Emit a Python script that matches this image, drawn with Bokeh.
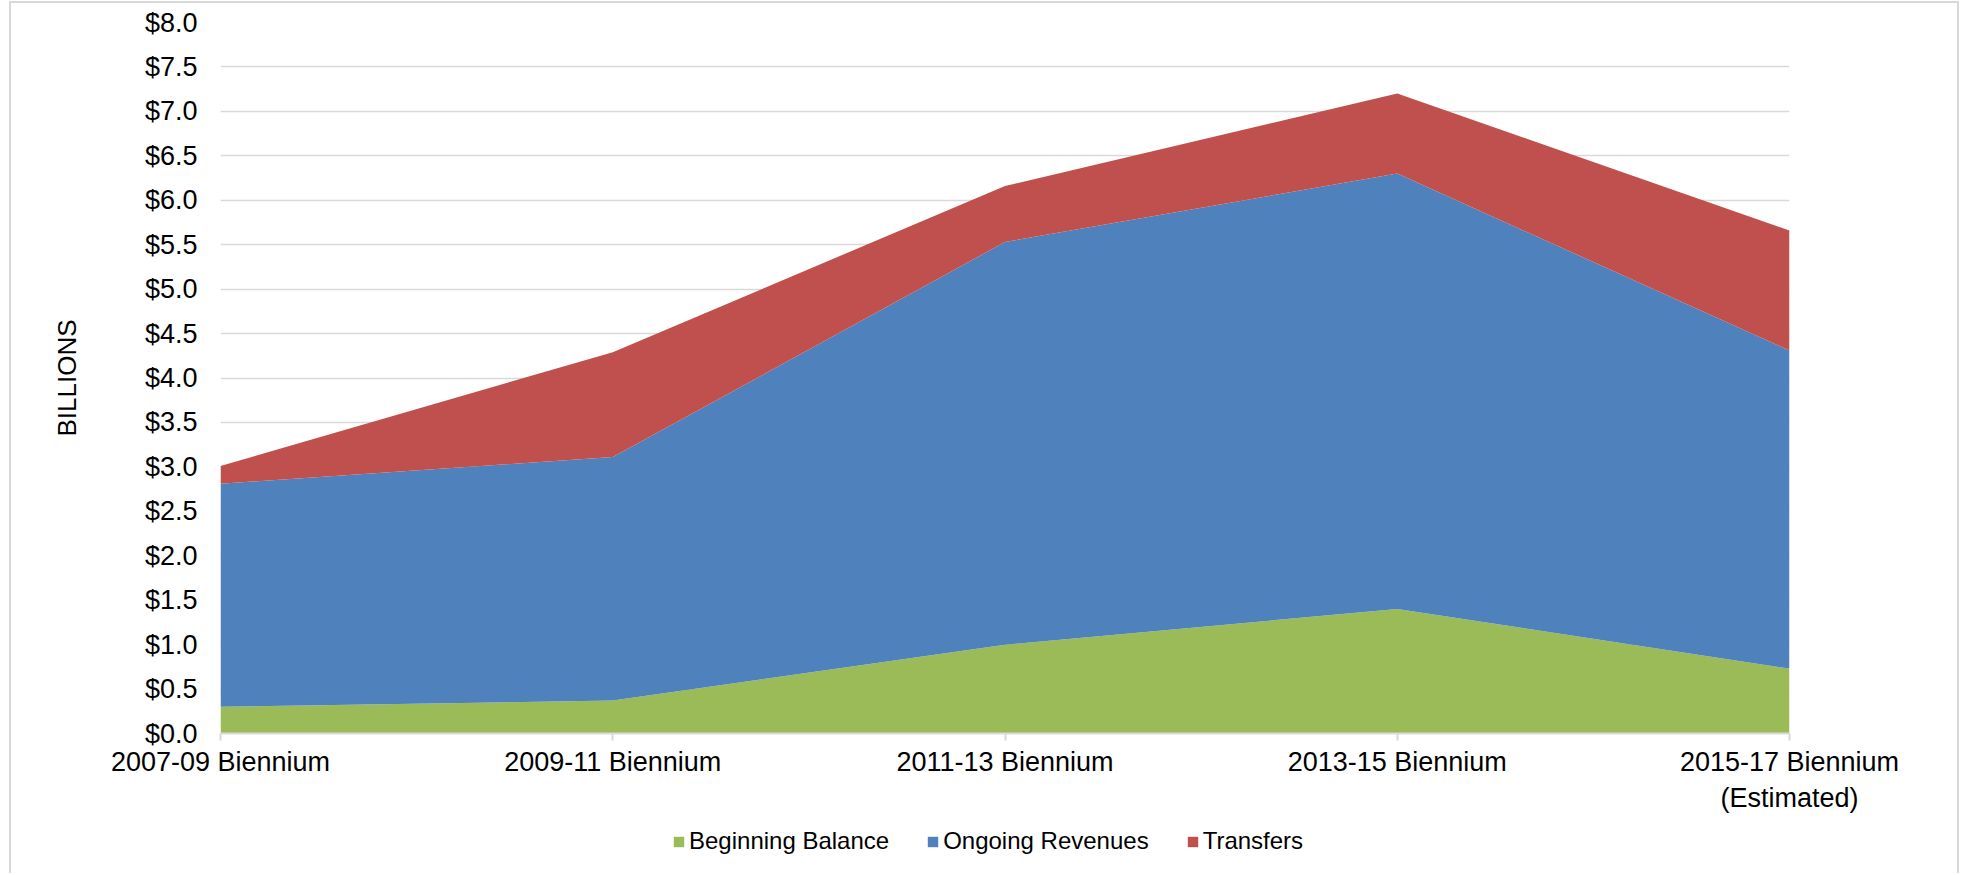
from bokeh.plotting import figure
from bokeh.layouts import column
from bokeh.models import (ColumnDataSource, Range1d, FixedTicker, NumeralTickFormatter,
                          Legend, LegendItem)
from bokeh.embed import file_html
from bokeh.resources import INLINE

categories = ["2007-09 Biennium", "2009-11 Biennium", "2011-13 Biennium",
              "2013-15 Biennium", "2015-17 Biennium\n(Estimated)"]
beginning_balance = [0.30, 0.37, 1.00, 1.40, 0.73]
ongoing_revenues = [2.51, 2.74, 4.53, 4.90, 3.58]
transfers = [0.20, 1.18, 0.63, 0.90, 1.35]
series_names = ["Beginning Balance", "Ongoing Revenues", "Transfers"]
colors = ["#9BBB59", "#4F81BD", "#C0504D"]
y_ticks = [i * 0.5 for i in range(17)]

FONT = "Liberation Sans"
BORDER = "2px solid #d9d9d9"

source = ColumnDataSource(dict(
    x=list(range(len(categories))),
    bb=beginning_balance,
    orv=ongoing_revenues,
    tr=transfers,
))
stackers = ["bb", "orv", "tr"]

p = figure(width=1950, height=812, output_backend="svg", toolbar_location=None,
           x_range=Range1d(0, len(categories) - 1), y_range=Range1d(0, 8),
           min_border_left=209, min_border_right=172, min_border_top=19,
           min_border_bottom=81)
p.styles = {"border-left": BORDER, "border-right": BORDER, "border-top": BORDER,
            "margin-left": "9px", "margin-top": "1px"}
p.outline_line_color = None
p.background_fill_color = "white"
p.border_fill_color = "white"

renderers = p.varea_stack(stackers=stackers, x="x", color=colors, source=source)

# axes
p.yaxis.ticker = FixedTicker(ticks=y_ticks)
p.yaxis.formatter = NumeralTickFormatter(format="$0.0")
p.yaxis.axis_line_color = None
p.yaxis.major_tick_line_color = None
p.yaxis.minor_tick_line_color = None
p.yaxis.major_tick_out = 0
p.yaxis.major_label_standoff = 23
p.yaxis.major_label_text_font = FONT
p.yaxis.major_label_text_font_size = "27px"
p.yaxis.major_label_text_color = "black"
p.yaxis.axis_label = "BILLIONS"
p.yaxis.axis_label_text_font = FONT
p.yaxis.axis_label_text_font_size = "26px"
p.yaxis.axis_label_text_font_style = "normal"
p.yaxis.axis_label_text_color = "black"
p.yaxis.axis_label_standoff = 60

p.xaxis.ticker = FixedTicker(ticks=list(range(len(categories))))
p.xaxis.major_label_overrides = {i: c for i, c in enumerate(categories)}
p.xaxis.axis_line_color = "#d9d9d9"
p.xaxis.axis_line_width = 2
p.xaxis.major_tick_line_color = "#d9d9d9"
p.xaxis.major_tick_line_width = 2
p.xaxis.major_tick_out = 7
p.xaxis.major_tick_in = 0
p.xaxis.minor_tick_line_color = None
p.xaxis.major_label_standoff = 6
p.xaxis.major_label_text_font = FONT
p.xaxis.major_label_text_font_size = "27px"
p.xaxis.major_label_text_color = "black"
p.xaxis.major_label_text_line_height = 1.2

p.xgrid.grid_line_color = None
p.ygrid.ticker = FixedTicker(ticks=y_ticks)
p.ygrid.grid_line_color = "#d9d9d9"
p.ygrid.grid_line_width = 1.5
p.ygrid.level = "underlay"

# legend strip below the chart (same series, ranges chosen so only the legend shows)
lg = figure(width=1950, height=60, output_backend="svg", toolbar_location=None,
            x_range=Range1d(0, len(categories) - 1), y_range=Range1d(-2, -1),
            x_axis_location=None, y_axis_location=None,
            min_border_left=0, min_border_right=0, min_border_top=0, min_border_bottom=0)
lg.styles = {"border-left": BORDER, "border-right": BORDER, "margin-left": "9px"}
lg.outline_line_color = None
lg.grid.visible = False
lg.background_fill_color = "white"
lg.border_fill_color = "white"
lg_renderers = lg.varea_stack(stackers=stackers, x="x", color=colors, source=source)

legend = Legend(items=[LegendItem(label=n, renderers=[r]) for n, r in zip(series_names, lg_renderers)],
                orientation="horizontal", location=(452, 18))
legend.padding = 0
legend.margin = 0
legend.spacing = 37
legend.label_standoff = 4
legend.glyph_width = 13
legend.glyph_height = 13
legend.label_text_font = FONT
legend.label_text_font_size = "24px"
legend.label_text_color = "black"
legend.border_line_color = None
legend.background_fill_alpha = 0
lg.add_layout(legend, "center")

layout = column(p, lg, spacing=0)
open("out.html", "w").write(file_html(layout, INLINE))
